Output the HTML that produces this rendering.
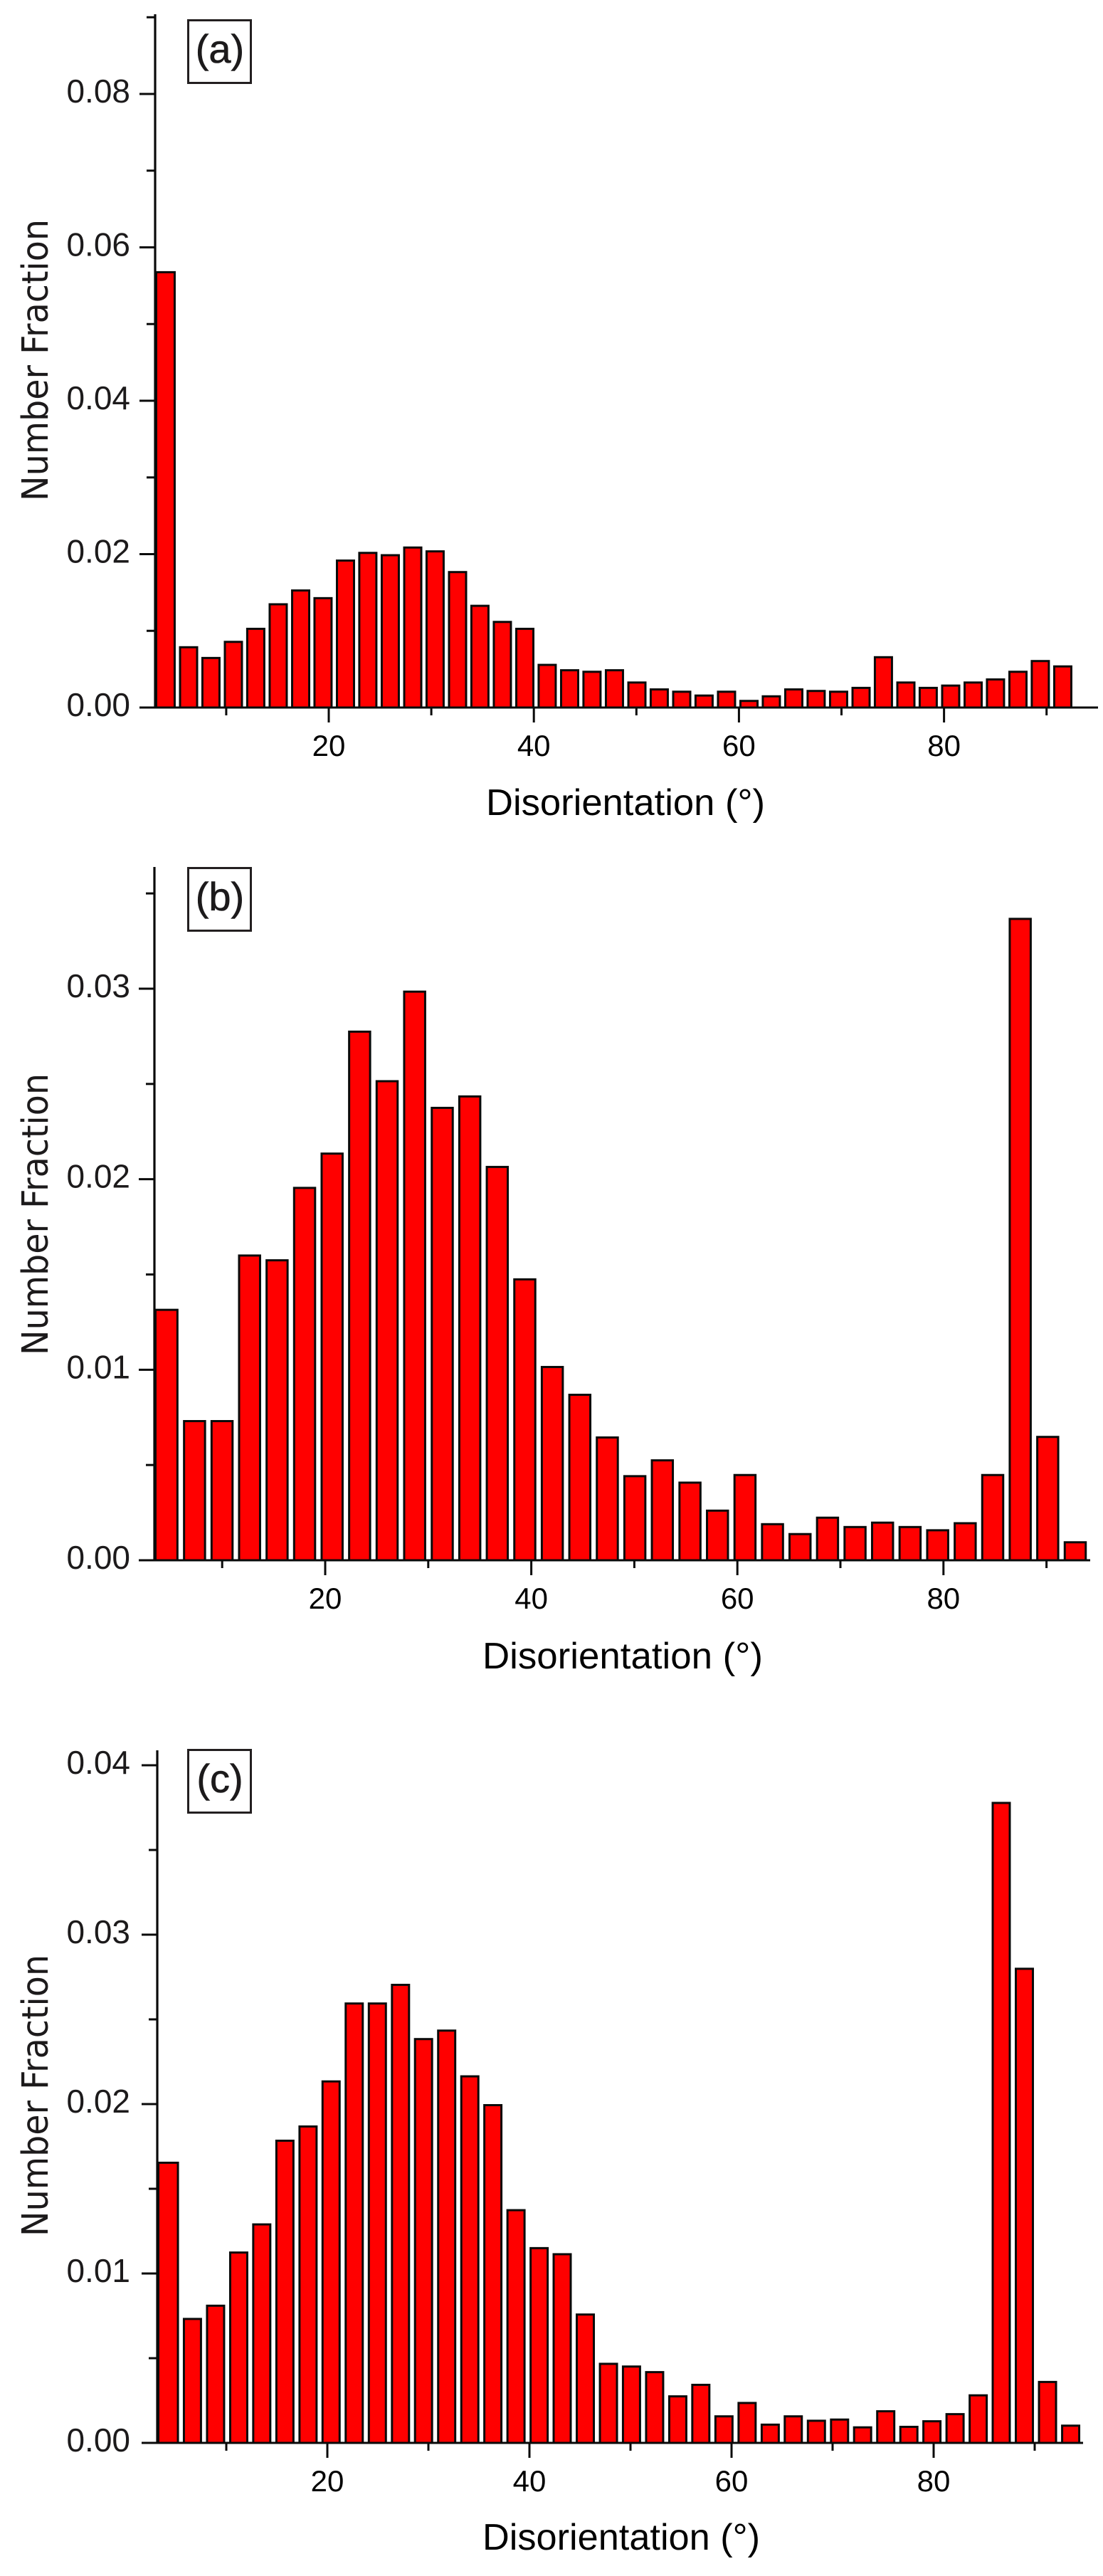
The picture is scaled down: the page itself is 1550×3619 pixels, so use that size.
<!DOCTYPE html>
<html lang="en">
<head>
<meta charset="utf-8">
<title>Disorientation histograms</title>
<style>
html,body{margin:0;padding:0;background:#fff;width:1550px;height:3619px;overflow:hidden}
svg{display:block}
text{fill:#1c1a1b}
.ytick{font:46px "Liberation Sans",sans-serif;text-anchor:end}
.xtick{font:42px "Liberation Sans",sans-serif;text-anchor:middle;fill:#000}
.xtitle{font:52px "Liberation Sans",sans-serif;fill:#000}
.ytitle{font:50.5px "DejaVu Sans",sans-serif}
.plabel{font:56px "Liberation Sans",sans-serif;text-anchor:middle;stroke:#1c1a1b;stroke-width:.6}
</style>
</head>
<body>
<svg id="fig" xmlns="http://www.w3.org/2000/svg" width="1550" height="3619" viewBox="0 0 1550 3619">
  <rect width="1550" height="3619" fill="#fff"/>

  <g id="panel-a">
    <rect x="264.5" y="28.5" width="88" height="88" fill="none" stroke="#231f20" stroke-width="3"/>
    <text class="plabel" x="309" y="88">(a)</text>
    <text class="ytitle" transform="translate(67,704) rotate(-90)" textLength="396" lengthAdjust="spacingAndGlyphs">Number Fraction</text>
    <text class="xtitle" x="683" y="1145" textLength="392" lengthAdjust="spacingAndGlyphs">Disorientation (°)</text>
  </g>

  <g id="panel-b">
    <rect x="264.5" y="1219.5" width="88" height="88" fill="none" stroke="#231f20" stroke-width="3"/>
    <text class="plabel" x="309" y="1279">(b)</text>
    <text class="ytitle" transform="translate(67,1904) rotate(-90)" textLength="396" lengthAdjust="spacingAndGlyphs">Number Fraction</text>
    <text class="xtitle" x="678" y="2344" textLength="394" lengthAdjust="spacingAndGlyphs">Disorientation (°)</text>
  </g>

  <g id="panel-c">
    <rect x="264.5" y="2458.5" width="88" height="88" fill="none" stroke="#231f20" stroke-width="3"/>
    <text class="plabel" x="309" y="2518">(c)</text>
    <text class="ytitle" transform="translate(67,3142) rotate(-90)" textLength="396" lengthAdjust="spacingAndGlyphs">Number Fraction</text>
    <text class="xtitle" x="678" y="3582" textLength="390" lengthAdjust="spacingAndGlyphs">Disorientation (°)</text>
  </g>
</svg>

<script>
// Bin centres (degrees)
var categoriesA = [4.14,6.33,8.51,10.70,12.88,15.07,17.26,19.44,21.63,23.81,26.00,28.19,30.37,32.56,34.74,36.93,39.12,41.30,43.49,45.67,47.86,50.05,52.23,54.42,56.60,58.79,60.98,63.16,65.35,67.53,69.72,71.91,74.09,76.28,78.46,80.65,82.84,85.02,87.21,89.39,91.58];
var categoriesB = [4.64,7.32,9.99,12.66,15.33,18.00,20.67,23.34,26.01,28.68,31.36,34.03,36.70,39.37,42.04,44.71,47.38,50.05,52.72,55.40,58.07,60.74,63.41,66.08,68.75,71.42,74.09,76.76,79.44,82.11,84.78,87.45,90.12,92.79];
var categoriesC = [4.37,6.65,8.94,11.23,13.51,15.80,18.09,20.37,22.66,24.95,27.24,29.52,31.81,34.10,36.38,38.67,40.96,43.24,45.53,47.82,50.10,52.39,54.68,56.96,59.25,61.54,63.83,66.11,68.40,70.69,72.97,75.26,77.55,79.83,82.12,84.41,86.69,88.98,91.27,93.56];

// Number fraction per bin
var valuesA = [0.0569,0.0080,0.0066,0.0087,0.0104,0.0136,0.0154,0.0144,0.0193,0.0203,0.0200,0.0210,0.0205,0.0178,0.0134,0.0113,0.0104,0.0057,0.0050,0.0048,0.0050,0.0034,0.0025,0.0022,0.0017,0.0022,0.0010,0.0016,0.0025,0.0023,0.0022,0.0027,0.0067,0.0034,0.0027,0.0030,0.0034,0.0038,0.0048,0.0062,0.0055];
var valuesB = [0.0132,0.00736,0.00736,0.01605,0.0158,0.0196,0.0214,0.0278,0.0252,0.0299,0.0238,0.0244,0.0207,0.0148,0.0102,0.00874,0.0065,0.00447,0.0053,0.00413,0.00266,0.00453,0.00195,0.00143,0.00229,0.0018,0.00203,0.0018,0.00163,0.0020,0.00453,0.03372,0.00653,0.0010];
var valuesC = [0.0166,0.00738,0.00816,0.0113,0.01296,0.0179,0.01874,0.0214,0.0260,0.0260,0.0271,0.0239,0.0244,0.0217,0.0200,0.0138,0.01156,0.0112,0.00764,0.00473,0.00457,0.00424,0.00281,0.00349,0.00163,0.00242,0.00114,0.00163,0.00137,0.00144,0.00098,0.00193,0.00101,0.00134,0.00176,0.00287,0.03784,0.02805,0.00366,0.00108];

// Axis ticks
var xMajorTicks = [20,40,60,80];
var xMinorTicks = [10,30,50,70,90];
var yMajorTicksA = [0,0.02,0.04,0.06,0.08];
var yMinorTicksA = [0.01,0.03,0.05,0.07,0.09];
var yMajorTicksB = [0,0.01,0.02,0.03];
var yMinorTicksB = [0.005,0.015,0.025,0.035];
var yMajorTicksC = [0,0.01,0.02,0.03,0.04];
var yMinorTicksC = [0.005,0.015,0.025,0.035];

var NS = 'http://www.w3.org/2000/svg';

function line(parent, x1, y1, x2, y2, w) {
  var el = document.createElementNS(NS, 'line');
  el.setAttribute('x1', x1);
  el.setAttribute('y1', y1);
  el.setAttribute('x2', x2);
  el.setAttribute('y2', y2);
  el.setAttribute('stroke', '#0a0a0a');
  el.setAttribute('stroke-width', w);
  parent.appendChild(el);
  return el;
}

function label(parent, cls, x, y, str) {
  var el = document.createElementNS(NS, 'text');
  el.setAttribute('class', cls);
  el.setAttribute('x', x);
  el.setAttribute('y', y);
  el.textContent = str;
  parent.appendChild(el);
  return el;
}

function drawPanel(cfg) {
  var g = document.getElementById(cfg.id);
  var sx = function (d) { return cfg.x20 + (d - 20) * cfg.pxPerDeg; };
  var sy = function (v) { return cfg.y0 - v * cfg.pxPerUnit; };
  var binPx = cfg.binDeg * cfg.pxPerDeg;
  var barW = binPx - cfg.gap;

  cfg.categories.forEach(function (c, i) {
    var v = cfg.values[i];
    var left = sx(c) - barW / 2;
    var right = left + barW;
    // The first bar butts against the y axis, as in the reference.
    if (i === 0) { left = cfg.axisX; }
    var r = document.createElementNS(NS, 'rect');
    r.setAttribute('x', left + 1.5);
    r.setAttribute('y', sy(v) + 1.5);
    r.setAttribute('width', right - left - 3);
    r.setAttribute('height', Math.max(0, cfg.y0 - sy(v) - 1.5));
    r.setAttribute('fill', '#ff0000');
    r.setAttribute('stroke', '#0a0a0a');
    r.setAttribute('stroke-width', 3);
    
    
    g.appendChild(r);
  });

  var yAxis = line(g, cfg.axisX, cfg.yTop, cfg.axisX, cfg.y0 + 1.5, 3.2);
  
  

  var xAxis = line(g, cfg.axisX - 22, cfg.y0, cfg.xEnd, cfg.y0, 3);
  
  

  cfg.yMajor.forEach(function (v) {
    var t = line(g, cfg.axisX - 22, sy(v), cfg.axisX, sy(v), 3);
    
    
    var l = label(g, 'ytick', 183, sy(v) + cfg.yLabelDy, v.toFixed(2));
    
    
  });
  cfg.yMinor.forEach(function (v) {
    var t = line(g, cfg.axisX - 12, sy(v), cfg.axisX, sy(v), 3);
    
    
  });
  xMajorTicks.forEach(function (d) {
    var t = line(g, sx(d), cfg.y0, sx(d), cfg.y0 + 21, 3);
    
    
    var l = label(g, 'xtick', sx(d), cfg.y0 + 68, String(d));
    
    
  });
  xMinorTicks.forEach(function (d) {
    var t = line(g, sx(d), cfg.y0, sx(d), cfg.y0 + 11, 3);
    
    
  });
}

drawPanel({id:'panel-a', categories:categoriesA, values:valuesA, yMajor:yMajorTicksA, yMinor:yMinorTicksA,
  axisX:218, yTop:20, y0:994, xEnd:1543, x20:462, pxPerDeg:14.41, pxPerUnit:10775, binDeg:2.186, gap:4.5, yLabelDy:12});
drawPanel({id:'panel-b', categories:categoriesB, values:valuesB, yMajor:yMajorTicksB, yMinor:yMinorTicksB,
  axisX:217, yTop:1218, y0:2192, xEnd:1532, x20:457, pxPerDeg:14.48, pxPerUnit:26767, binDeg:2.671, gap:6.2, yLabelDy:12});
drawPanel({id:'panel-c', categories:categoriesC, values:valuesC, yMajor:yMajorTicksC, yMinor:yMinorTicksC,
  axisX:221, yTop:2459, y0:3432, xEnd:1522, x20:460, pxPerDeg:14.2, pxPerUnit:23800, binDeg:2.287, gap:5.5, yLabelDy:12});
</script>
</body>
</html>
